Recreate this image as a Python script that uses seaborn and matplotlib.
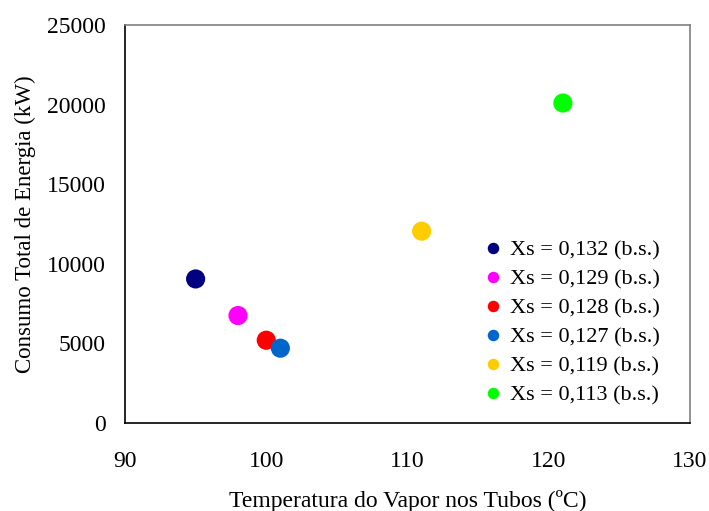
import matplotlib
matplotlib.use("Agg")
import matplotlib.pyplot as plt
import seaborn as sns
import pandas as pd

# Total energy consumption vs. steam temperature in the tubes
temperatura = [95, 98, 100, 101, 111, 121]
consumo = [9050, 6750, 5200, 4700, 12050, 20100]
umidade = ["Xs = 0,132 (b.s.)", "Xs = 0,129 (b.s.)", "Xs = 0,128 (b.s.)",
           "Xs = 0,127 (b.s.)", "Xs = 0,119 (b.s.)", "Xs = 0,113 (b.s.)"]
cores = ["#000080", "#FF00FF", "#FF0000", "#0066CC", "#FFCC00", "#00FF00"]

df = pd.DataFrame({"T": temperatura, "E": consumo, "Xs": umidade})

sns.set_theme(style="white")
plt.rcParams["font.family"] = ["Liberation Serif", "DejaVu Serif"]
plt.rcParams["text.color"] = "black"
plt.rcParams["axes.labelcolor"] = "black"

fig = plt.figure(figsize=(7.09, 5.11), dpi=100)
ax = fig.add_axes([0.1763, 0.1722, 0.7969, 0.7788])

sns.scatterplot(data=df, x="T", y="E", hue="Xs", palette=cores,
                s=190, edgecolor="none", ax=ax, legend=True)

ax.set_xlim(90, 130)
ax.set_ylim(0, 25000)
ax.set_xticks([90, 100, 110, 120, 130])
ax.set_yticks([0, 5000, 10000, 15000, 20000, 25000])
ax.tick_params(axis="both", direction="in", length=6, width=1, color="#808080",
               labelsize=17, labelcolor="black")
ax.tick_params(axis="y", pad=14)
ax.tick_params(axis="x", pad=20)

for side in ["left", "bottom"]:
    ax.spines[side].set_color("black")
    ax.spines[side].set_linewidth(1.2)
for side in ["top", "right"]:
    ax.spines[side].set_color("#808080")
    ax.spines[side].set_linewidth(1.2)

ax.set_xlabel("Temperatura do Vapor nos Tubos (ºC)", fontsize=17, labelpad=13)
ax.set_ylabel("Consumo Total de Energia (kW)", fontsize=16.5, labelpad=8)

leg = ax.legend(loc="lower right", bbox_to_anchor=(0.975, 0.005), frameon=False,
                fontsize=16, markerscale=0.6, handlelength=1.0,
                handletextpad=0.3, labelspacing=0.38, borderaxespad=0.3)
for t in leg.get_texts():
    t.set_color("black")

fig.savefig("out.png", dpi=100)
